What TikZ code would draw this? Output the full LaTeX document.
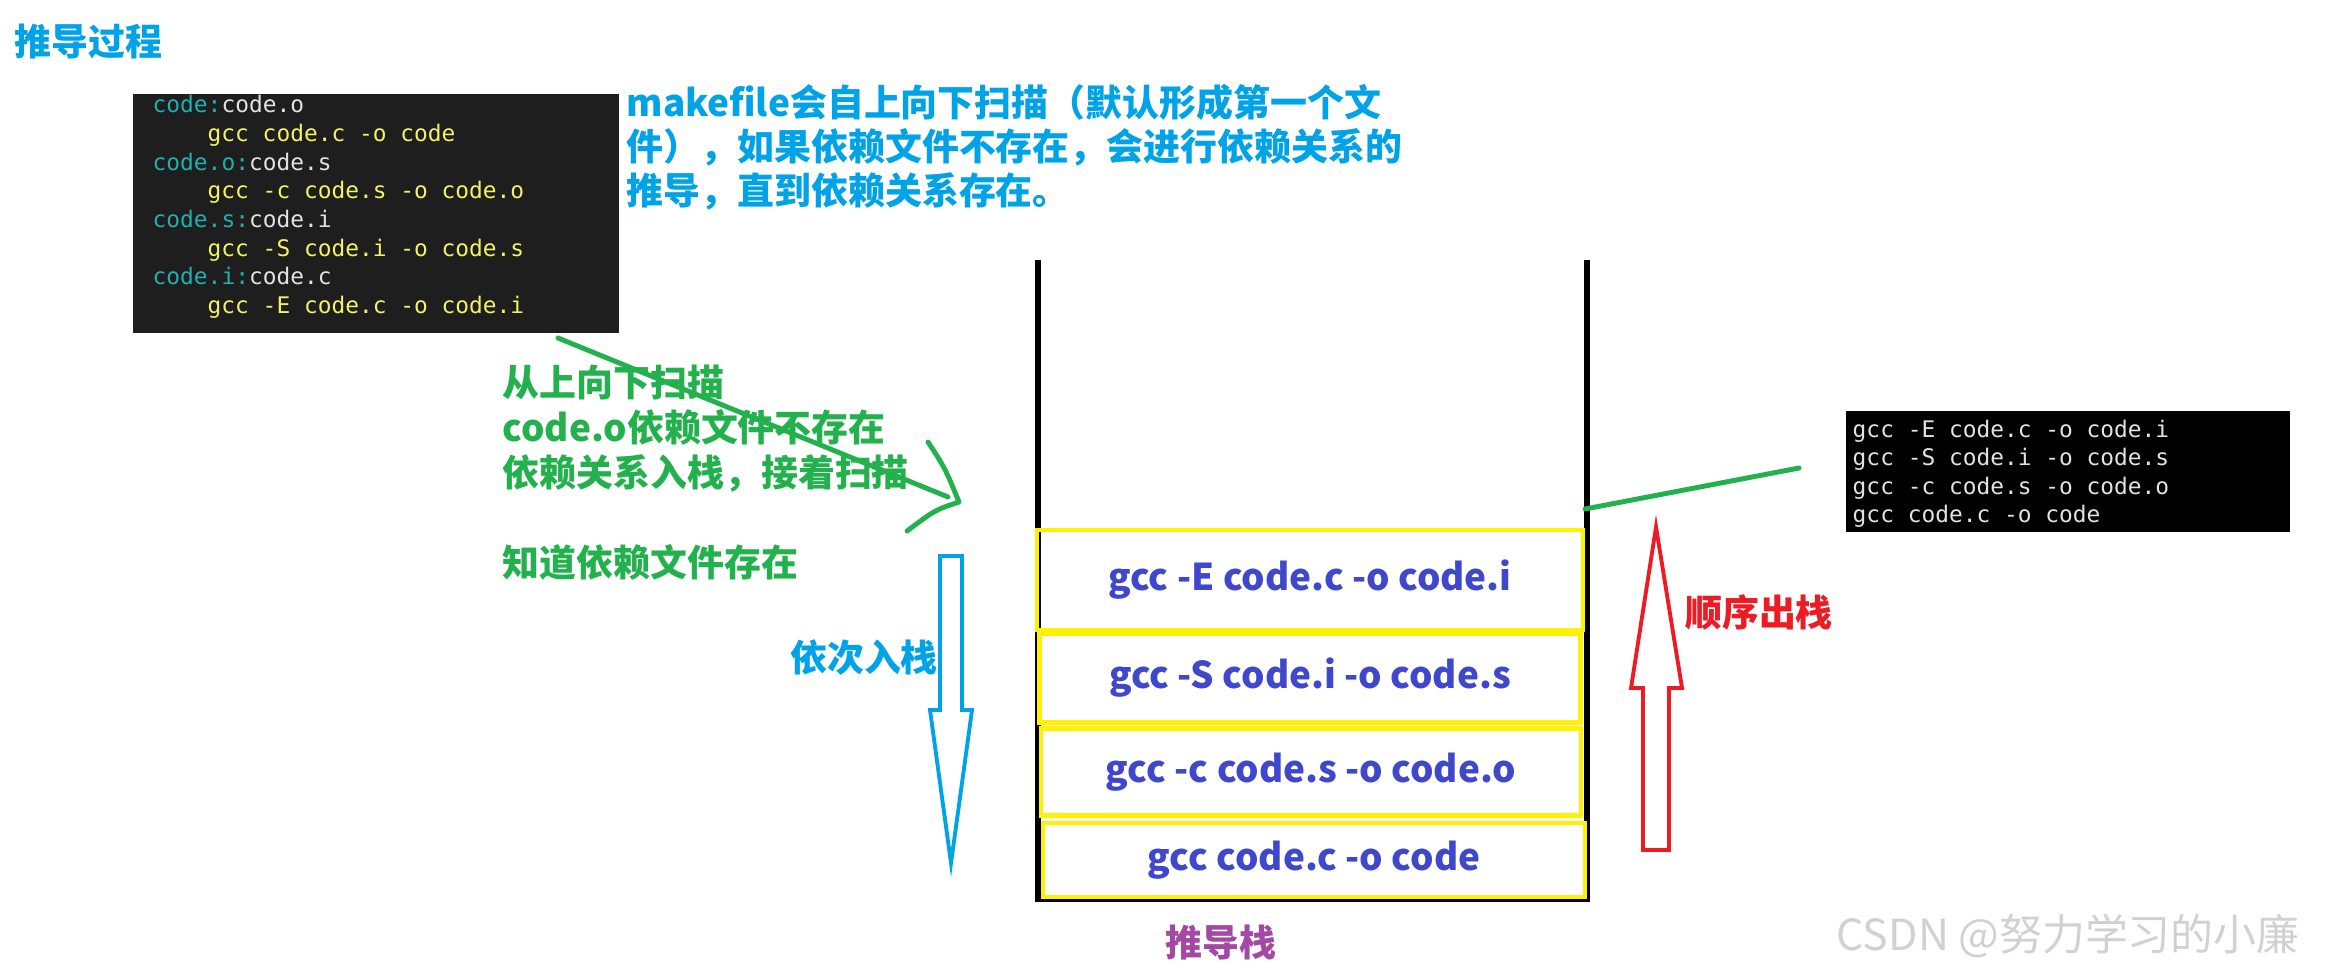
\documentclass[tikz,border=0pt]{standalone}
\usepackage{fontspec}
\setmainfont{Noto Sans CJK SC}
\newfontfamily\codefont{DejaVu Sans Mono}

\definecolor{paintcyan}{HTML}{00A2E8}
\definecolor{paintgreen}{HTML}{22B14C}
\definecolor{paintindigo}{HTML}{3F48CC}
\definecolor{paintpurple}{HTML}{A349A4}
\definecolor{paintred}{HTML}{ED1C24}
\definecolor{paintyellow}{HTML}{FFF200}
\definecolor{codebg}{HTML}{1E1E1E}
\definecolor{codeteal}{HTML}{22AFAF}
\definecolor{codewhite}{HTML}{E2E2E2}
\definecolor{codeyellow}{HTML}{F2F266}

\tikzset{
  bigtext/.style={inner sep=0pt, font=\bfseries\fontsize{10.5}{12.5}\selectfont},
  codeline/.style={inner sep=0pt, anchor=base west, font=\codefont\fontsize{6.5}{8}\selectfont},
  stackitem/.style={draw=paintyellow, line width=1.3pt, inner sep=0pt, text=paintindigo,
    font=\bfseries\fontsize{10.5}{12.5}\selectfont},
  scribble/.style={paintgreen, line width=1.4pt, line cap=round, line join=round},
  hollowarrow/.style={line width=1.1pt, line join=miter}
}

\begin{document}
\begin{tikzpicture}[x=0.01cm, y=-0.01cm]
\useasboundingbox (0,0) rectangle (2325,976);

% title
\node[bigtext, anchor=west, text=paintcyan] (title) at (14,42) {推导过程};

% makefile
\fill[codebg] (133,94) rectangle (619,333);
\foreach \tgt/\dep/\rcp [count=\i from 0] in {code:/code.o/gcc code.c -o code,
    code.o:/code.s/gcc -c code.s -o code.o,
    code.s:/code.i/gcc -S code.i -o code.s,
    code.i:/code.c/gcc -E code.c -o code.i}
{
  \node[codeline] (rule\i) at (152,113+57.2*\i) {\textcolor{codeteal}{\tgt}\textcolor{codewhite}{\dep}};
  \node[codeline, text=codeyellow] (recipe\i) at (207,141.6+57.2*\i) {\rcp};
}

\node[bigtext, anchor=north west, align=left, text=paintcyan] (desc) at (626,84)
  {makefile会自上向下扫描（默认形成第一个文\\件），如果依赖文件不存在，会进行依赖关系的\\推导，直到依赖关系存在。};

% scan notes
\node[bigtext, anchor=north west, align=left, text=paintgreen,
  font=\bfseries\fontsize{10.5}{12.8}\selectfont] (scan) at (502,364)
  {从上向下扫描\\code.o依赖文件不存在\\依赖关系入栈，接着扫描\\[12.8pt]知道依赖文件存在};

\coordinate (scanA) at (558,338);
\coordinate (scanB) at (948,497);
\coordinate (tipU) at (928,442);
\coordinate (tip) at (959,502);
\coordinate (tipL) at (907,531);
\draw[scribble] (scanA) -- (scanB);
\draw[scribble] (tipU) .. controls (945,468) .. (tip) .. controls (935,510) .. (tipL);

% push arrow
\draw[hollowarrow, paintcyan] (940,556) -- (962,556) -- (962,710) -- (972,710)
  -- (951,863) -- (930,710) -- (940,710) -- cycle;
\node[bigtext, text=paintcyan] (push) at (864,658) {依次入栈};

% stack
\draw[line width=1.5pt] (1038,260) -- (1038,899) -- (1587,899) -- (1587,260);
\node[stackitem, minimum width=5.46cm, minimum height=1.00cm] (s1) at (1310,580) {gcc -E code.c -o code.i};
\node[stackitem, minimum width=5.41cm, minimum height=0.89cm] (s2) at (1310,678) {gcc -S code.i -o code.s};
\node[stackitem, minimum width=5.40cm, minimum height=0.87cm] (s3) at (1311,772) {gcc -c code.s -o code.o};
\node[stackitem, minimum width=5.42cm, minimum height=0.74cm] (s4) at (1314,860) {gcc code.c -o code};
\node[bigtext, text=paintpurple] (stk) at (1221,942) {推导栈};

% pop arrow
\draw[hollowarrow, paintred] (1643,850) -- (1643,688) -- (1631,688) -- (1656,527)
  -- (1682,688) -- (1669,688) -- (1669,850) -- cycle;
\node[bigtext, text=paintred] (pop) at (1759,612) {顺序出栈};

% output
\fill[black] (1846,411) rectangle (2290,532);
\foreach \rcp [count=\i from 0] in {gcc -E code.c -o code.i, gcc -S code.i -o code.s,
    gcc -c code.s -o code.o, gcc code.c -o code}
  \node[codeline, text=codewhite] (out\i) at (1852,437+28.6*\i) {\rcp};

\coordinate (wallR) at (1585,509);
\coordinate (outL) at (1799,468);
\draw[scribble] (wallR) -- (outL);

% watermark
\node[inner sep=0pt, anchor=west, text=black!18, font=\fontsize{12.2}{14}\selectfont] (wm) at (1836,936)
  {CSDN @努力学习的小廉};
\end{tikzpicture}
\end{document}
